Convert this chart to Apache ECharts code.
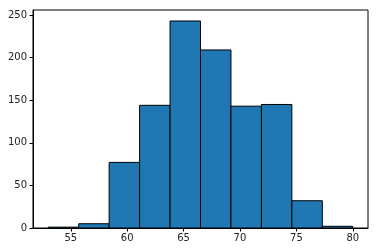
<!DOCTYPE html>
<html><head><meta charset="utf-8">
<script src="https://cdn.jsdelivr.net/npm/echarts@6/dist/echarts.min.js"></script>
<style>html,body{margin:0;padding:0;background:#fff}#c{width:378px;height:252px}</style>
</head><body><div id="c"></div>
<script>
const binEdges = [53, 55.7, 58.4, 61.1, 63.8, 66.5, 69.2, 71.9, 74.6, 77.3, 80];
const counts = [1, 5, 77, 144, 243, 209, 143, 145, 32, 2];
const xTicks = [55, 60, 65, 70, 75, 80];
const yTicks = [0, 50, 100, 150, 200, 250];

const data = counts.map((c, i) => [binEdges[i], binEdges[i + 1], c]);
const chart = echarts.init(document.getElementById('c'), null, {renderer: 'canvas'});
const axisCommon = {
  axisLine: {show: true, lineStyle: {color: '#000', width: 1}},
  axisTick: {show: true, length: 3.5, lineStyle: {color: '#000', width: 1}},
  splitLine: {show: false},
  axisLabel: {color: '#222', fontFamily: 'DejaVu Sans', fontSize: 10}
};
chart.setOption({
  animation: false,
  grid: {left: 33, right: 10, top: 10, bottom: 24, show: true, borderColor: '#000', borderWidth: 1},
  xAxis: Object.assign({}, axisCommon, {
    type: 'value', min: 51.65, max: 81.35,
    axisTick: Object.assign({}, axisCommon.axisTick, {customValues: xTicks}),
    axisLabel: Object.assign({}, axisCommon.axisLabel, {customValues: xTicks, margin: 5})
  }),
  yAxis: Object.assign({}, axisCommon, {
    type: 'value', min: 0, max: 255.9,
    axisTick: Object.assign({}, axisCommon.axisTick, {customValues: yTicks}),
    axisLabel: Object.assign({}, axisCommon.axisLabel, {customValues: yTicks, margin: 6})
  }),
  series: [{
    type: 'custom',
    data: data,
    encode: {x: [0, 1], y: 2},
    renderItem: function (params, api) {
      const p0 = api.coord([api.value(0), 0]);
      const p1 = api.coord([api.value(1), api.value(2)]);
      return {
        type: 'rect',
        shape: {x: p0[0], y: p1[1], width: p1[0] - p0[0], height: p0[1] - p1[1]},
        style: {fill: '#1f77b4', stroke: '#000', lineWidth: 1}
      };
    }
  }]
});
</script></body></html>
